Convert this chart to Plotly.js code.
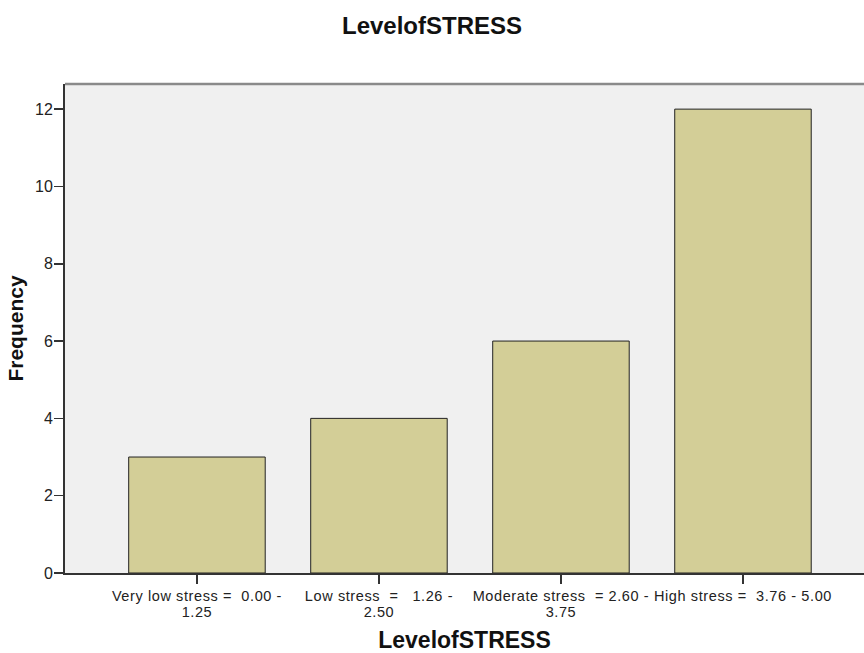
<!DOCTYPE html>
<html><head><meta charset="utf-8">
<script src="https://cdn.plot.ly/plotly-3.0.1.min.js"></script>
<style>
body{margin:0;background:#fff}#c{width:864px;height:653px}
.xtick text, .x2tick text {letter-spacing: 0.6px}
</style>
</head><body><div id="c"></div>
<script>
var categories = ["Very low stress", "Low stress", "Moderate stress", "High stress"];
var tickLine1 = ["Very low stress =&nbsp; 0.00 -", "Low stress&nbsp; =&nbsp;&nbsp; 1.26 -", "Moderate stress&nbsp; = 2.60 -", "High stress =&nbsp; 3.76 - 5.00"];
var tickLine2 = ["1.25", "2.50", "3.75", ""];
var frequency = [3, 4, 6, 12];
var yTicks = [0, 2, 4, 6, 8, 10, 12];

var trace = {
  type: 'bar', x: categories, y: frequency, width: 0.75,
  marker: {color: '#d3ce97', line: {color: '#222', width: 1}},
  hoverinfo: 'none'
};
var ghost = {
  type: 'bar', x: categories, y: frequency, width: 0.75, xaxis: 'x2', yaxis: 'y',
  marker: {color: 'rgba(0,0,0,0)', line: {width: 0}}, hoverinfo: 'none'
};
var xr = [-0.725, 3.665];
var layout = {
  width: 864, height: 653,
  margin: {l: 65, r: 0, t: 84, b: 80},
  paper_bgcolor: '#fff', plot_bgcolor: '#f0f0f0',
  font: {family: 'Liberation Sans, Arial, sans-serif', color: '#222', size: 14},
  title: {text: '<b>LevelofSTRESS</b>', font: {size: 24, color: '#111'}, x: 0.5, xanchor: 'center', y: 1 - 26/653, yanchor: 'middle', yref: 'container'},
  xaxis: {
    type: 'category', range: xr, tickmode: 'array', tickvals: categories, ticktext: tickLine1,
    ticks: 'outside', ticklen: 9, tickwidth: 1.5, tickcolor: '#333', showline: true, linecolor: '#333', linewidth: 2,
    showgrid: false, zeroline: false, tickfont: {size: 14.5},
    title: {text: '<b>LevelofSTRESS</b>', font: {size: 23, color: '#111'}, standoff: 35}
  },
  xaxis2: {
    type: 'category', overlaying: 'x', anchor: 'y', side: 'bottom', range: xr,
    tickmode: 'array', tickvals: categories, ticktext: tickLine2, ticks: '', showline: false,
    showgrid: false, zeroline: false, tickfont: {size: 14.5, color: '#222'}, ticklabelstandoff: 28
  },
  yaxis: {
    range: [0, 12.65], tickvals: yTicks, ticks: 'outside', ticklen: 9, tickwidth: 1.5, tickcolor: '#333',
    showline: true, linecolor: '#333', linewidth: 2, showgrid: false, zeroline: false, tickfont: {size: 16},
    ticklabelstandoff: -2,
    title: {text: '<b>Frequency</b>', font: {size: 21, color: '#111'}, standoff: 6}
  },
  shapes: [{type: 'line', xref: 'paper', yref: 'paper', x0: 0, x1: 1, y0: 1, y1: 1, line: {color: '#8a8a8a', width: 2.5}}],
  showlegend: false, bargap: 0, barmode: 'overlay'
};
Plotly.newPlot('c', [trace, ghost], layout, {displayModeBar: false, staticPlot: true});
</script></body></html>
